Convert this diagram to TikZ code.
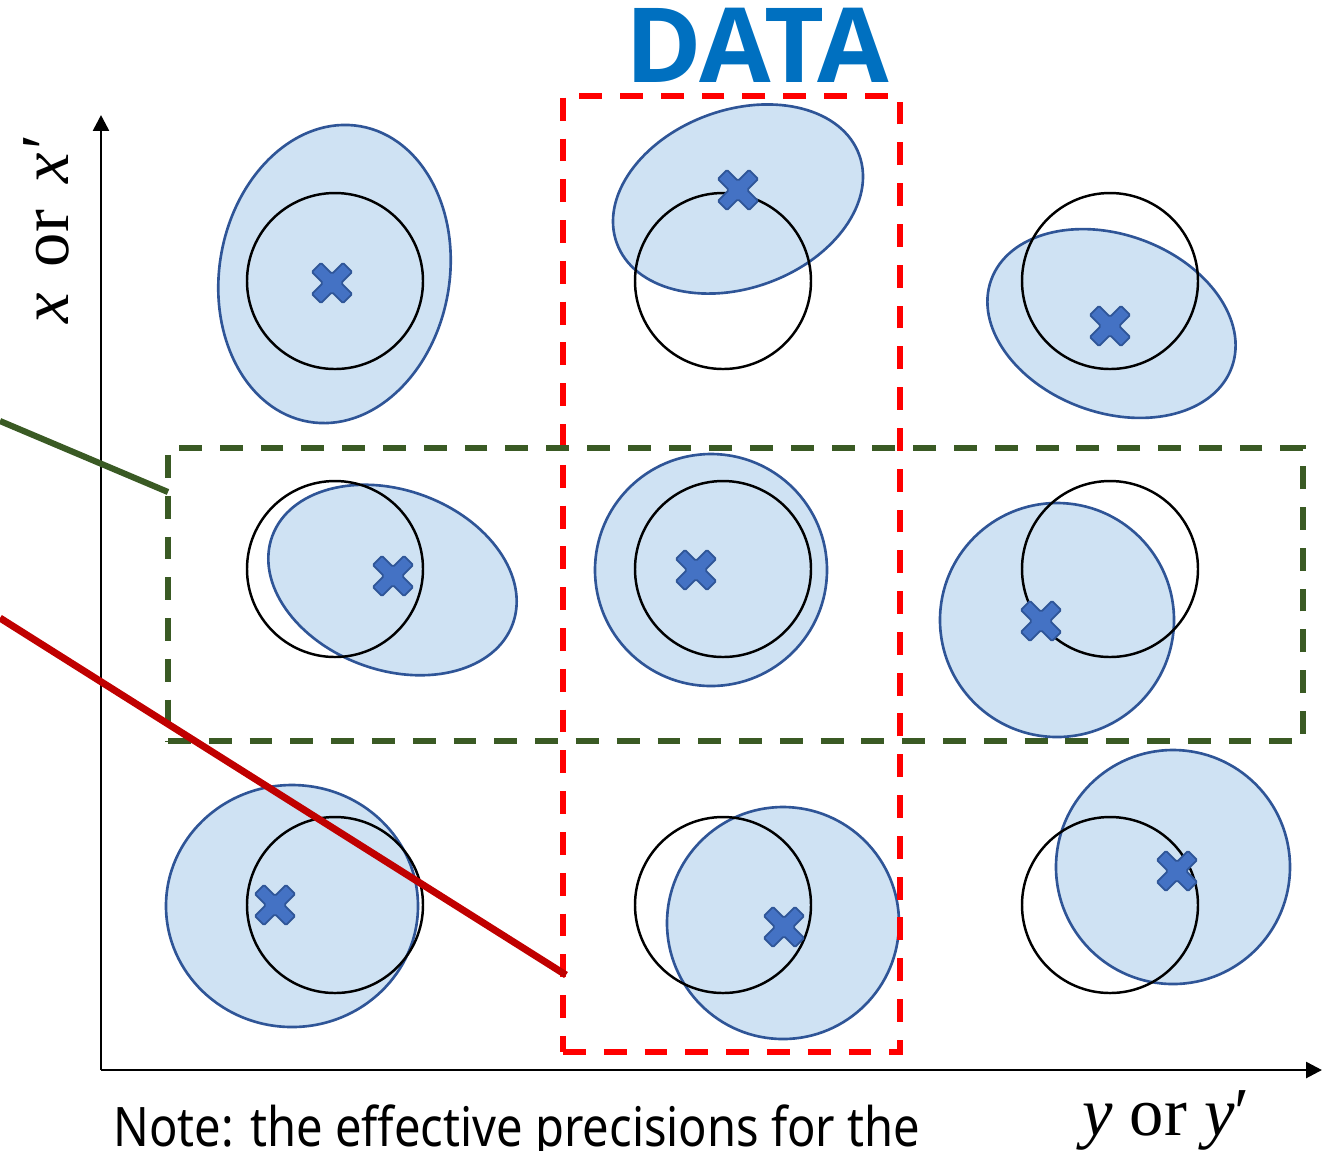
\documentclass[tikz,border=0pt]{standalone}
\usepackage{fontspec}
\setmainfont{Liberation Serif}
\newfontfamily\datafont{Open Sans}
\newfontfamily\notefont{Noto Sans}
\usetikzlibrary{arrows.meta}

\definecolor{ellfill}{HTML}{CFE2F3}
\definecolor{ellline}{HTML}{2F5597}
\definecolor{crossfill}{HTML}{4472C4}
\definecolor{datablue}{HTML}{0070C0}
\definecolor{groupgreen}{HTML}{3A5A24}
\definecolor{dashred}{HTML}{FF0000}
\definecolor{solidred}{HTML}{C00000}

\tikzset{
  post/.style={draw=ellline, fill=ellfill, line width=0.75pt},
  prior/.style={draw=black, line width=0.7pt},
  axisline/.style={draw=black, line width=0.75pt, -{Triangle[length=4.5pt,width=4.5pt]}},
  groupbox/.style={line width=1.75pt, dash pattern=on 6.5pt off 5.1pt},
  xcross/.pic={
    \path[draw=ellline, fill=crossfill, line width=0.5pt, rotate=45, rounded corners=0.4pt]
      (6.5,22) -- (6.5,6.5) -- (22,6.5) -- (22,-6.5) -- (6.5,-6.5) -- (6.5,-22) -- (-6.5,-22)
      -- (-6.5,-6.5) -- (-22,-6.5) -- (-22,6.5) -- (-6.5,6.5) -- (-6.5,22) -- cycle;
  }
}

\begin{document}
\begin{tikzpicture}[x=0.01cm, y=-0.01cm]
\useasboundingbox (0,0) rectangle (1342,1150);

% posterior ellipses / circles
\path[post, rotate around={-10:(334.5,274)}] (334.5,274) ellipse [x radius=115, y radius=150];
\path[post, rotate around={20:(738,199)}] (738,199) ellipse [x radius=129, y radius=89];
\path[post, rotate around={-20:(1111.5,323.5)}] (1111.5,323.5) ellipse [x radius=128, y radius=89];
\path[post, rotate around={-20:(392.5,580)}] (392.5,580) ellipse [x radius=128, y radius=90];
\path[post] (711,570) circle [radius=116];
\path[post] (1057,620) circle [radius=117];
\path[post] (292,906) ellipse [x radius=126, y radius=121];
\path[post] (783,923) circle [radius=116];
\path[post] (1173,867) circle [radius=117];

% prior circles
\foreach \cx in {335,723,1110}
  \foreach \cy in {281,569,905}
    \path[prior] (\cx,\cy) circle [radius=88];

% centres
\foreach \px/\py in {332/283,738/190,1110/326,393/576,696/570,1041/621,275/905,784/927,1177/871}
  \pic at (\px,\py) {xcross};

% axes
\coordinate (origin) at (101,1070);
\coordinate (ytop) at (101,115);
\coordinate (xend) at (1322,1070);
\draw[axisline] (origin) -- (ytop);
\draw[axisline] (origin) -- (xend);

% data column and group row
\node[draw=dashred, groupbox, minimum width=337*0.01cm, minimum height=956*0.01cm, inner sep=0pt]
  (datacol) at (731.5,574) {};
\node[draw=groupgreen, groupbox, minimum width=1135*0.01cm, minimum height=293*0.01cm, inner sep=0pt]
  (grouprow) at (735.5,594.5) {};

% leader lines
\coordinate (greenstart) at (0,421);
\coordinate (greenend) at (168,492);
\coordinate (redstart) at (0,618);
\coordinate (redend) at (566,975);
\draw[groupgreen, line width=1.75pt] (greenstart) -- (greenend);
\draw[solidred, line width=2pt] (redstart) -- (redend);

% labels
\node[anchor=base, text=datablue, font=\datafont\bfseries\fontsize{29.5}{31}\selectfont, inner sep=0pt]
  (datalabel) at (757,82) {DATA};
\node[anchor=base, rotate=90, font=\fontsize{19.5}{21}\selectfont, inner sep=0pt]
  (xlabel) at (68,229) {\textit{x}\hspace{0.38em}or\hspace{0.38em}\textit{x}\kern0.06em′};
\node[anchor=base, font=\fontsize{19.5}{21}\selectfont, inner sep=0pt]
  (ylabel) at (1166,1135) {\textit{y} or \textit{y}′};
\node[anchor=base west, font=\notefont\fontsize{15.5}{17}\selectfont, inner sep=0pt]
  (note) at (113,1146) {\scalebox{0.864}[1]{Note: the effective precisions for the}};
\end{tikzpicture}
\end{document}
